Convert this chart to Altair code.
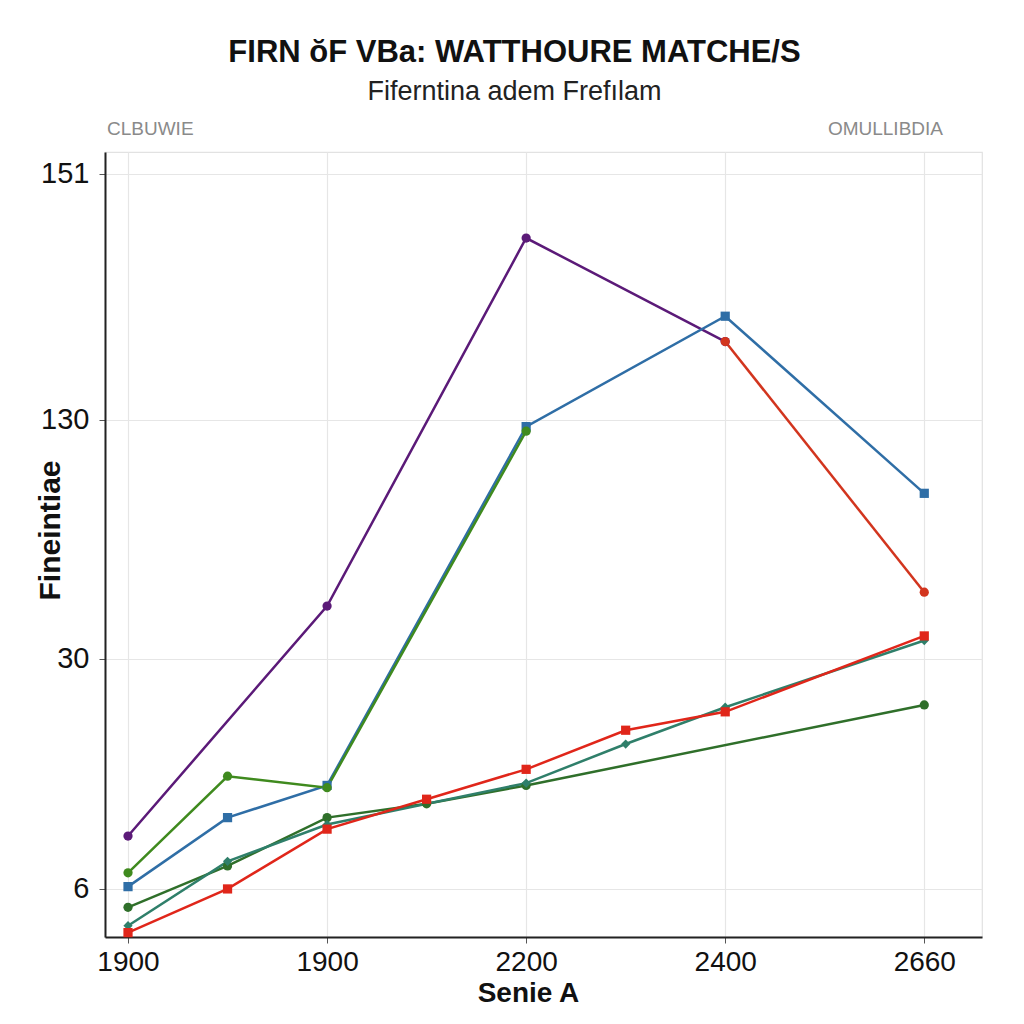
import altair as alt
import pandas as pd

# ---- data (x = category slot index, y = level on the chart's tick ladder) ----
X_LABELS = ["1900", "1900", "2200", "2400", "2660"]
Y_TICK_POS = [0, 1, 2.04, 3.11]
Y_LABELS = ["6", "30", "130", "151"]

SERIES = ["Purple", "Blue", "Green A", "Green B", "Teal", "Red", "Red B"]
COLORS = ["#5b1a78", "#2f6ea6", "#3f8a1e", "#2f6f2a", "#2f7f6a", "#e0261a", "#d2351e"]
SHAPES = ["circle", "square", "circle", "circle", "diamond", "square", "circle"]

purple_x = [0, 1, 2, 3]
purple_y = [0.23, 1.23, 2.83, 2.38]
blue_x = [0, 0.5, 1, 2, 3, 4]
blue_y = [0.01, 0.31, 0.45, 2.01, 2.49, 1.72]
greenA_x = [0, 0.5, 1, 2]
greenA_y = [0.07, 0.49, 0.44, 1.99]
greenB_x = [0, 0.5, 1, 1.5, 2, 4]
greenB_y = [-0.08, 0.10, 0.31, 0.37, 0.45, 0.80]
teal_x = [0, 0.5, 1, 2, 2.5, 3, 4]
teal_y = [-0.16, 0.12, 0.28, 0.46, 0.63, 0.79, 1.08]
red_x = [0, 0.5, 1, 1.5, 2, 2.5, 3, 4]
red_y = [-0.19, 0.00, 0.26, 0.39, 0.52, 0.69, 0.77, 1.10]
redB_x = [3, 4]
redB_y = [2.38, 1.29]

CORNER_LABELS = ["CLBUWIE", "OMULLIBDIA"]
TITLE = "FIRN ŏF VBa: WATTHOURE MATCHE/S"
SUBTITLE = "Fiferntina adem Frefılam"
X_TITLE = "Senie A"
Y_TITLE = "Fineintiae"

rows = []
for name, xs, ys in [
    ("Purple", purple_x, purple_y),
    ("Blue", blue_x, blue_y),
    ("Green A", greenA_x, greenA_y),
    ("Green B", greenB_x, greenB_y),
    ("Teal", teal_x, teal_y),
    ("Red", red_x, red_y),
    ("Red B", redB_x, redB_y),
]:
    for xv, yv in zip(xs, ys):
        rows.append({"series": name, "x": xv, "y": yv, "order": SERIES.index(name)})
df = pd.DataFrame(rows)

x_label_expr = "[" + ",".join("'" + s + "'" for s in X_LABELS) + "][round(datum.value)]"
y_label_expr = (
    f"datum.value < 0.5 ? '{Y_LABELS[0]}' : datum.value < 1.5 ? '{Y_LABELS[1]}' : "
    f"datum.value < 2.5 ? '{Y_LABELS[2]}' : '{Y_LABELS[3]}'"
)

FONT = "Liberation Sans"

x_enc = alt.X(
    "x:Q",
    scale=alt.Scale(domain=[-0.1156, 4.29], nice=False, zero=False),
    axis=alt.Axis(
        values=[0, 1, 2, 3, 4], labelExpr=x_label_expr, title=X_TITLE,
        labelFont=FONT, labelFontSize=28, labelColor="#111", labelPadding=5,
        titleFont=FONT, titleFontSize=28, titleFontWeight="bold", titleColor="#111",
        titleX=423, titleY=56, titleBaseline="middle",
        domainColor="#222", domainWidth=2, tickColor="#555", tickSize=6,
        gridColor="#e6e6e6", gridWidth=1.2,
    ),
)
y_enc = alt.Y(
    "y:Q",
    scale=alt.Scale(domain=[-0.209, 3.204], nice=False, zero=False),
    axis=alt.Axis(
        values=Y_TICK_POS, labelExpr=y_label_expr, title=Y_TITLE,
        labelFont=FONT, labelFontSize=29, labelColor="#111", labelPadding=10,
        titleFont=FONT, titleFontSize=30, titleFontWeight="bold", titleColor="#111",
        titleX=-55, titleY=378, titleAngle=-90, titleBaseline="middle",
        domainColor="#222", domainWidth=2, tickColor="#555", tickSize=6,
        gridColor="#e6e6e6", gridWidth=1.2,
    ),
)
color_enc = alt.Color("series:N", scale=alt.Scale(domain=SERIES, range=COLORS), legend=None)
shape_enc = alt.Shape("series:N", scale=alt.Scale(domain=SERIES, range=SHAPES), legend=None)

base = alt.Chart(df)
lines = base.mark_line(strokeWidth=2.5).encode(
    x=x_enc, y=y_enc, color=color_enc, detail="series:N", order="x:Q"
)
points = base.mark_point(filled=True, size=85, opacity=1).encode(
    x="x:Q", y="y:Q", color=color_enc, shape=shape_enc
)

left_lbl = alt.Chart(pd.DataFrame({"t": [CORNER_LABELS[0]]})).mark_text(
    align="left", baseline="middle", font=FONT, fontSize=19, color="#8a8a8a"
).encode(x=alt.value(2), y=alt.value(-23), text="t:N")
right_lbl = alt.Chart(pd.DataFrame({"t": [CORNER_LABELS[1]]})).mark_text(
    align="right", baseline="middle", font=FONT, fontSize=19, color="#8a8a8a"
).encode(x=alt.value(838), y=alt.value(-23), text="t:N")

chart = alt.layer(lines, points, left_lbl, right_lbl).properties(
    width=877,
    height=785,
    autosize=alt.AutoSizeParams(type="none"),
    padding={"left": 105, "top": 152, "right": 42, "bottom": 87},
    background="white",
    title=alt.TitleParams(
        text=TITLE, subtitle=SUBTITLE, anchor="middle", dx=-29, offset=14,
        font=FONT, fontSize=31, fontWeight="bold", color="#111",
        subtitleFont=FONT, subtitleFontSize=27, subtitleColor="#222", subtitlePadding=10,
    ),
).configure_view(stroke="#e2e2e2", strokeWidth=1.2)

chart.save("out.html", embed_options={"renderer": "svg", "actions": False})
